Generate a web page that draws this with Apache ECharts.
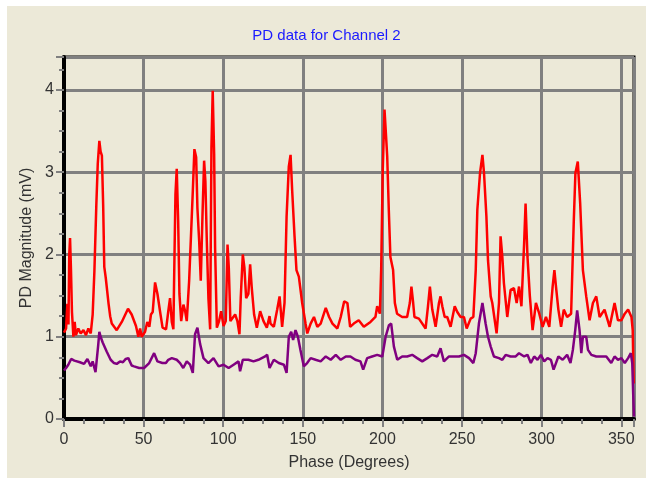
<!DOCTYPE html>
<html>
<head>
<meta charset="utf-8">
<script src="https://cdn.jsdelivr.net/npm/echarts@6/dist/echarts.min.js"></script>
<style>
  html, body { margin: 0; padding: 0; background: #fff; }
  #wrap { position: relative; width: 646px; height: 478px; background: #fff; }
  #chart { position: absolute; left: 7px; top: 6px; width: 639px; height: 472px; background: #ECE9D8; }
</style>
</head>
<body>
<div id="wrap"><div id="chart"></div></div>
<script>
// red trace (upper), phase in degrees / magnitude in mV
const phaseRed = [0, 1.3, 2.1, 2.8, 3.3, 3.8, 4.4, 5, 5.9, 6.7, 7.5, 9, 10.5, 12.2, 13.8, 15.3, 16.8, 18, 19.1, 20.3,
  21.2, 22.2, 23, 23.8, 24.6, 25.3, 26.2, 28, 29, 30, 33.1, 36.3, 40.2, 42.5, 45.2, 46.7, 47.8, 48.8, 50.9, 52.3,
  53.6, 54.6, 55.7, 57.2, 58.7, 60.3, 61.9, 64.1, 65.5, 66.6, 67.7, 68.7, 69.4, 70, 70.8, 71.7, 72.5, 73.6, 75, 76.1,
  77.1, 78.6, 79.8, 80.9, 81.9, 83, 83.8, 84.9, 85.9, 87, 88, 88.8, 89.7, 90.7, 91.8, 92.6, 93.4, 94.3, 94.9, 96,
  97.4, 98.7, 100.2, 101.6, 102.7, 103.5, 104.5, 106, 107.5, 108.9, 110.2, 111, 112.3, 113.3, 114.4, 115.8, 116.9, 117.9, 119.4, 121.1,
  123.2, 125.3, 127.4, 129.1, 129.7, 131.8, 133.9, 135.4, 137, 138.5, 139.8, 141.2, 142.3, 143.3, 144.8, 146, 147.5, 149.6, 151.7, 152.8,
  154.9, 157, 159.1, 161.2, 164.4, 166.5, 168.6, 171.7, 173.8, 176, 178, 179.7, 182, 185.1, 188.3, 192.5, 195.6, 196.7, 198.4, 199.2,
  200.2, 201.3, 202.3, 203, 204, 205, 206.7, 207.8, 209.2, 212.4, 215.5, 217.2, 218.2, 219.3, 220.1, 222.9, 227.1, 228.6, 229.8, 231.3,
  233.4, 235.5, 236.5, 237.6, 239.1, 240.7, 242.8, 245.4, 247, 249.1, 251.2, 252.9, 255.4, 257.1, 258.6, 259.6, 261.3, 262.8, 263.8, 265.3,
  266.3, 268, 269, 271.7, 273.2, 274.2, 275.3, 276.3, 278.4, 280.5, 282.6, 284.3, 285.8, 287.3, 289, 289.9, 291.1, 292.6, 294.3, 296.4,
  298.5, 300.6, 302.7, 304.8, 306.9, 308, 309, 310.5, 312.2, 313.9, 316, 318.5, 320.2, 321.2, 322.7, 324.2, 325.9, 328, 330.1, 332.2,
  334.3, 336.4, 339.5, 342.7, 345.8, 347.9, 350.1, 352.2, 354.3, 356.4, 357.2, 357.8];
const magRed = [1.05, 1.1, 1.4, 1.15, 2.0, 2.2, 1.8, 1.3, 1.0, 1.18, 1.02, 1.1, 1.04, 1.08, 1.02, 1.1, 1.04, 1.27, 1.8, 2.6,
  3.1, 3.38, 3.25, 3.2, 2.6, 1.85, 1.72, 1.4, 1.25, 1.16, 1.08, 1.18, 1.34, 1.27, 1.13, 1.0, 1.1, 1.0, 1.06, 1.18,
  1.12, 1.27, 1.3, 1.66, 1.52, 1.31, 1.11, 1.09, 1.31, 1.47, 1.18, 1.09, 2.0, 2.73, 3.04, 2.41, 1.52, 1.19, 1.39, 1.31,
  1.19, 1.68, 2.25, 2.77, 3.28, 3.18, 2.56, 2.16, 1.68, 2.49, 3.14, 2.89, 2.16, 1.47, 1.09, 3.3, 3.99, 3.22, 2.08, 1.11,
  1.19, 1.31, 1.13, 1.19, 2.12, 1.84, 1.19, 1.23, 1.27, 1.19, 1.03, 1.47, 2.0, 1.84, 1.47, 1.52, 1.88, 1.6, 1.27, 1.11,
  1.31, 1.19, 1.11, 1.25, 1.16, 1.12, 1.33, 1.49, 1.12, 1.41, 2.46, 3.07, 3.21, 2.78, 2.22, 1.81, 1.73, 1.41, 1.16, 1.04,
  1.16, 1.24, 1.12, 1.16, 1.35, 1.24, 1.16, 1.1, 1.24, 1.43, 1.41, 1.12, 1.16, 1.2, 1.12, 1.18, 1.24, 1.37, 1.28, 1.81,
  3.03, 3.76, 3.43, 3.19, 2.54, 1.97, 1.81, 1.41, 1.28, 1.24, 1.24, 1.41, 1.61, 1.41, 1.24, 1.22, 1.1, 1.37, 1.61, 1.33,
  1.12, 1.41, 1.49, 1.37, 1.24, 1.24, 1.12, 1.37, 1.3, 1.24, 1.24, 1.1, 1.22, 1.24, 1.81, 2.54, 2.99, 3.21, 2.99, 2.46,
  1.93, 1.49, 1.41, 1.04, 1.41, 2.22, 1.97, 1.65, 1.24, 1.57, 1.59, 1.41, 1.61, 1.37, 2.14, 2.62, 1.97, 1.49, 1.08, 1.41,
  1.28, 1.12, 1.24, 1.12, 1.61, 1.81, 1.61, 1.33, 1.12, 1.33, 1.24, 1.28, 2.42, 2.99, 3.13, 2.62, 1.81, 1.49, 1.2, 1.41,
  1.49, 1.24, 1.33, 1.12, 1.41, 1.2, 1.2, 1.28, 1.33, 1.24, 1.08, 0.43];

// purple trace (lower)
const phasePurple = [0, 1.3, 2.7, 4.5, 6.5, 7.5, 10, 12.6, 14.7, 16.8, 18, 19.8, 21.5, 22.2, 23, 24.3, 26.8, 29.3, 31.4, 33.1,
  35.2, 37, 38.8, 40.4, 42.5, 44, 47.2, 50.3, 53.5, 54.1, 56.6, 57.2, 58.7, 61.8, 62.4, 64, 65.5, 67.7, 70.8, 72.9,
  74.9, 77.1, 79.2, 80.9, 82.3, 83.8, 85.5, 87.6, 90.7, 93.9, 97.1, 100.2, 103.4, 106.5, 109.6, 110.6, 112.3, 115.8, 119, 122.1,
  126.3, 127.6, 129.1, 131.8, 134.9, 138.1, 139.8, 141.2, 142.7, 143.9, 145.4, 146.9, 148.5, 150.6, 152.7, 154.9, 158, 161.2, 164.4, 167.5,
  170.7, 173.8, 177, 179.9, 183, 186.2, 187.9, 190.4, 193.5, 196.7, 199.9, 202, 204.1, 205.5, 207.2, 209.3, 212.4, 215.5, 218.7, 221.8,
  225, 228.2, 231.3, 234.4, 236.5, 238.6, 241.8, 244.9, 248.1, 251.2, 254.4, 257.1, 258.6, 260.6, 262.8, 264.8, 266.3, 268, 270, 273.2,
  275.3, 277.4, 280.5, 283.7, 285.8, 289, 291.1, 293.2, 295.3, 297.4, 299.5, 301.6, 303.7, 305.8, 307.5, 309, 310.5, 313.2, 316, 318.1,
  319.6, 321.1, 322.3, 323.8, 324.9, 325.9, 328, 329.1, 331.2, 334.3, 337.4, 340.6, 343.7, 345.8, 347.9, 350.1, 352.2, 354.3, 356, 356.9,
  357.5, 358];
const magPurple = [0.59, 0.62, 0.66, 0.73, 0.71, 0.69, 0.69, 0.67, 0.73, 0.64, 0.7, 0.57, 0.9, 1.06, 1.0, 0.93, 0.82, 0.72, 0.68, 0.67,
  0.7, 0.69, 0.73, 0.74, 0.65, 0.64, 0.62, 0.62, 0.68, 0.66, 0.8, 0.78, 0.7, 0.68, 0.66, 0.68, 0.72, 0.74, 0.72, 0.68,
  0.62, 0.7, 0.66, 0.56, 1.03, 1.11, 0.91, 0.74, 0.68, 0.74, 0.64, 0.66, 0.62, 0.66, 0.7, 0.58, 0.72, 0.72, 0.7, 0.72,
  0.76, 0.78, 0.62, 0.72, 0.68, 0.66, 0.56, 1.0, 1.06, 0.96, 1.08, 1.0, 0.84, 0.64, 0.68, 0.74, 0.72, 0.7, 0.76, 0.72,
  0.78, 0.72, 0.76, 0.76, 0.72, 0.7, 0.6, 0.74, 0.76, 0.78, 0.76, 1.0, 1.14, 1.16, 0.88, 0.72, 0.76, 0.76, 0.78, 0.74,
  0.7, 0.74, 0.78, 0.76, 0.86, 0.7, 0.76, 0.76, 0.76, 0.78, 0.74, 0.68, 0.8, 1.16, 1.41, 1.16, 1.0, 0.88, 0.76, 0.74,
  0.72, 0.78, 0.76, 0.76, 0.8, 0.76, 0.78, 0.68, 0.76, 0.72, 0.78, 0.7, 0.74, 0.72, 0.6, 0.68, 0.76, 0.72, 0.78, 0.68,
  0.84, 1.08, 1.32, 1.08, 0.8, 1.0, 1.0, 0.84, 0.78, 0.76, 0.76, 0.76, 0.68, 0.76, 0.72, 0.74, 0.68, 0.74, 0.8, 0.68,
  0.3, 0.03];

const xTickStep = 50;
const yTickStep = 1;

function zip(xs, ys) {
  return xs.map((x, i) => [x, ys[i]]);
}

const chart = echarts.init(document.getElementById("chart"));
const labelFont = { color: "#333", fontSize: 16, fontFamily: "Liberation Sans" };

chart.setOption({
  animation: false,
  backgroundColor: "#ECE9D8",
  title: {
    text: "PD data for Channel 2",
    left: "center",
    top: 22,
    padding: 0,
    textStyle: { color: "#1a1aff", fontSize: 15, fontWeight: "normal", fontFamily: "Liberation Sans" },
  },
  grid: {
    left: 57,
    right: 12,
    top: 51,
    bottom: 59,
    show: true,
    borderColor: "#000",
    borderWidth: 3,
    backgroundColor: "transparent",
  },
  xAxis: {
    type: "value",
    min: 0,
    max: 358,
    interval: xTickStep,
    name: "Phase (Degrees)",
    nameLocation: "middle",
    nameGap: 36,
    nameTextStyle: labelFont,
    axisLine: { show: true, lineStyle: { color: "#000", width: 4 } },
    axisTick: { show: true, length: 8, lineStyle: { color: "#808080", width: 2 } },
    minorTick: { show: true, splitNumber: 4, length: 5, lineStyle: { color: "#808080", width: 2 } },
    axisLabel: Object.assign({
      margin: 13,
      formatter: (v) => (v % xTickStep === 0 ? String(v) : ""),
    }, labelFont),
    splitLine: { show: true, lineStyle: { color: "#808080", width: 3 } },
  },
  yAxis: {
    type: "value",
    min: 0,
    max: 4.4,
    interval: yTickStep,
    name: "PD Magnitude (mV)",
    nameLocation: "middle",
    nameGap: 19,
    nameTextStyle: labelFont,
    axisLine: { show: true, lineStyle: { color: "#000", width: 4 } },
    axisTick: { show: true, length: 8, lineStyle: { color: "#808080", width: 2 } },
    minorTick: { show: true, splitNumber: 4, length: 5, lineStyle: { color: "#808080", width: 2 } },
    axisLabel: Object.assign({
      margin: 10,
      formatter: (v) => (Math.abs(v - Math.round(v)) < 1e-9 ? String(Math.round(v)) : ""),
    }, labelFont),
    splitLine: { show: true, lineStyle: { color: "#808080", width: 3 } },
  },
  series: [
    {
      name: "red",
      type: "line",
      data: zip(phaseRed, magRed),
      showSymbol: false,
      lineStyle: { color: "#ff0000", width: 2.5 },
    },
    {
      name: "purple",
      type: "line",
      data: zip(phasePurple, magPurple),
      showSymbol: false,
      lineStyle: { color: "#800080", width: 2.5 },
    },
  ],
});
</script>
</body>
</html>
